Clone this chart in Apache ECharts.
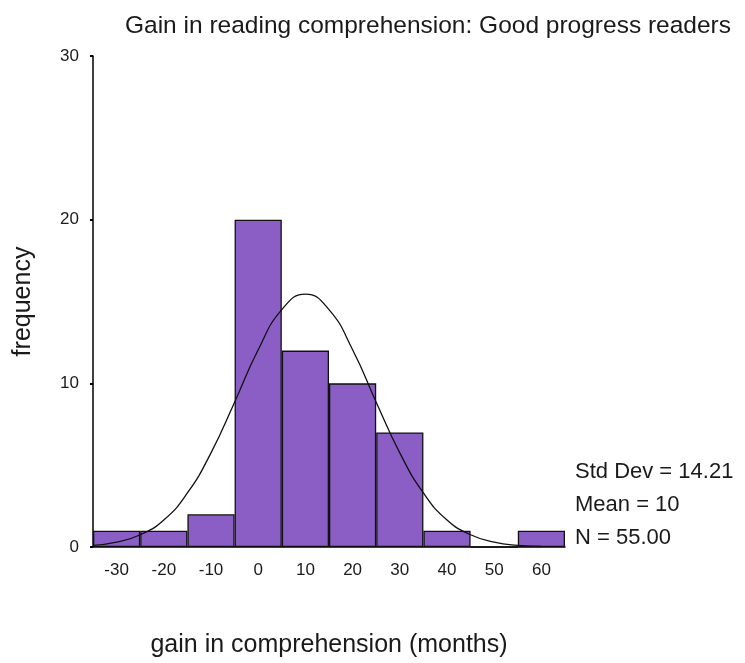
<!DOCTYPE html>
<html>
<head>
<meta charset="utf-8">
<script src="https://cdn.jsdelivr.net/npm/echarts@6/dist/echarts.min.js"></script>
<style>
  html, body { margin: 0; padding: 0; background: #fff; }
  #main { width: 745px; height: 663px; }
</style>
</head>
<body>
<div id="main"></div>
<script>
// histogram bins (centres) and counts
const binLabels = ["-30", "-20", "-10", "0", "10", "20", "30", "40", "50", "60"];
const counts = [1, 1, 2, 20, 12, 10, 7, 1, 0, 1];

// fitted normal curve
const curveX = [-35, -30, -25, -20, -15, -10, -5, 0, 5, 10, 15, 20, 25, 30, 35, 40, 45, 50, 55, 60];
const curveY = [0.1, 0.3, 0.75, 1.65, 3.3, 5.75, 8.85, 12.05, 14.5, 15.45, 14.5, 12.05, 8.85, 5.75, 3.3, 1.65, 0.75, 0.3, 0.1, 0.03];

const yTicks = [0, 10, 20, 30];
const statsLines = ["Std Dev = 14.21", "Mean = 10", "N = 55.00"];

const font = "Arial, 'Liberation Sans', sans-serif";
const txt = "#1a1a1a";

let myChart = echarts.init(document.getElementById("main"));
let option = {
  animation: false,
  title: {
    text: "Gain in reading comprehension: Good progress readers",
    left: 423,
    top: 9,
    textAlign: "center",
    textStyle: { fontFamily: font, fontSize: 24.5, fontWeight: "normal", color: txt },
  },
  grid: { left: 93, right: 180, top: 56, bottom: 110 },
  xAxis: [
    {
      type: "category",
      data: binLabels,
      boundaryGap: true,
      name: "gain in comprehension (months)",
      nameLocation: "middle",
      nameGap: 86,
      nameTextStyle: { fontFamily: font, fontSize: 25, color: txt },
      axisLine: { lineStyle: { color: "#000", width: 1.5 } },
      axisTick: { alignWithLabel: true, length: 4, lineStyle: { color: "#000", width: 2 } },
      axisLabel: { fontFamily: font, fontSize: 17, color: txt, margin: 15 },
    },
    {
      type: "value",
      min: -35,
      max: 65,
      show: false,
    },
  ],
  yAxis: {
    type: "value",
    min: 0,
    max: 30,
    interval: 10,
    name: "frequency",
    nameLocation: "middle",
    nameGap: 57,
    nameTextStyle: { fontFamily: font, fontSize: 25, color: txt },
    axisLine: { show: true, onZero: false, lineStyle: { color: "#000", width: 1.5 } },
    axisTick: { show: true, length: 3, lineStyle: { color: "#000", width: 2 } },
    axisLabel: {
      fontFamily: font, fontSize: 17, color: txt, margin: 14,
      formatter: (v) => (yTicks.indexOf(v) >= 0 ? String(v) : ""),
    },
    splitLine: { show: false },
  },
  graphic: [
    {
      type: "text",
      left: 575,
      top: 455,
      style: {
        text: statsLines.join("\n"),
        font: "22px " + font,
        lineHeight: 33,
        fill: txt,
      },
    },
  ],
  series: [
    {
      type: "bar",
      xAxisIndex: 0,
      data: counts,
      barCategoryGap: "0%",
      itemStyle: { color: "#8b5ec6", borderColor: "#111", borderWidth: 1.3 },
    },
    {
      type: "line",
      xAxisIndex: 1,
      data: curveX.map((x, i) => [x, curveY[i]]),
      smooth: true,
      showSymbol: false,
      lineStyle: { color: "#111", width: 1.3 },
      z: 5,
    },
  ],
};
myChart.setOption(option);
</script>
</body>
</html>
